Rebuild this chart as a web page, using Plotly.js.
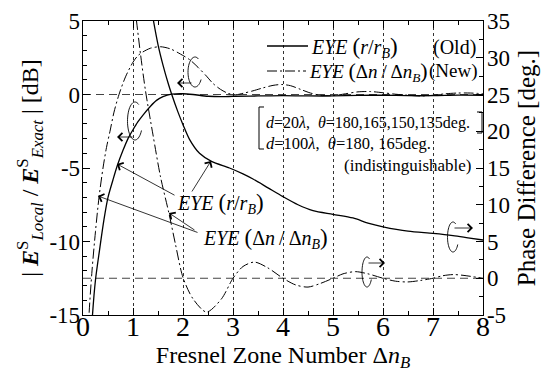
<!DOCTYPE html>
<html><head><meta charset="utf-8">
<script src="https://cdn.plot.ly/plotly-3.0.1.min.js"></script>
<style>
html,body{margin:0;padding:0;background:#fff}
#chart{width:547px;height:372px}
</style>
</head><body><div id="chart"></div>
<script>
// ---- data ----
const oldDbX = [0.15,0.19,0.25,0.33,0.42,0.5,0.6,0.69,0.8,0.9,1.0,1.1,1.2,1.35,1.47,1.6,1.77,2.0,2.2,2.5,2.8,3.0,3.5,4.0,4.5,5.0,5.5,6.0,6.5,7.0,7.5,8.0];
const oldDbY = [-17.5,-15,-12.6,-10.6,-8.5,-7.0,-5.8,-4.8,-3.8,-3.0,-2.4,-1.85,-1.4,-0.8,-0.4,-0.15,0.02,0.05,0.0,-0.12,-0.15,-0.12,-0.1,-0.08,-0.1,-0.1,-0.06,-0.05,-0.08,-0.08,-0.04,-0.05];
const newDbX = [0.08,0.12,0.18,0.25,0.32,0.4,0.47,0.54,0.62,0.72,0.85,1.0,1.1,1.2,1.35,1.55,1.75,1.95,2.14,2.3,2.47,2.6,2.75,2.9,3.05,3.2,3.4,3.6,3.8,3.97,4.15,4.35,4.55,4.75,5.0,5.25,5.5,5.75,6.0,6.25,6.5,6.75,7.0,7.25,7.5,7.75,8.0];
const newDbY = [-18.5,-15,-12,-9.3,-7.0,-5.0,-3.6,-2.5,-1.2,0.0,1.2,2.2,2.65,2.9,3.15,3.25,3.1,2.75,2.35,1.85,1.25,0.75,0.35,0.08,-0.02,0.08,0.25,0.45,0.62,0.68,0.6,0.35,0.1,-0.05,-0.08,0.05,0.18,0.2,0.12,0.02,-0.05,-0.1,-0.05,0.05,0.1,0.1,0.05];
const oldPhX = [1.3,1.41,1.5,1.6,1.7,1.77,1.9,2.0,2.13,2.33,2.57,2.93,3.2,3.4,3.7,4.0,4.3,4.6,5.0,5.4,5.7,6.0,6.5,7.0,7.4,7.7,8.0];
const oldPhY = [39.5,35,31.8,29.0,26.6,25.1,22.6,20.9,18.9,17.0,15.9,15.0,14.2,13.5,12.3,11.1,10.0,9.2,8.7,8.2,7.5,7.0,6.4,6.1,5.8,5.5,5.2];
const newPhX = [0.98,1.07,1.15,1.25,1.4,1.55,1.72,1.85,2.0,2.2,2.47,2.77,3.0,3.2,3.43,3.7,4.0,4.25,4.5,4.75,5.0,5.2,5.45,5.7,6.0,6.25,6.5,6.75,7.0,7.2,7.4,7.6,8.0];
const newPhY = [40,35,30.5,25.5,19.5,13.8,8.8,4.6,0.1,-2.8,-4.6,-2.8,0.0,1.6,2.2,1.4,0.0,-0.9,-1.2,-0.7,0.0,0.6,0.9,0.6,0.0,-0.4,-0.5,-0.3,0.0,0.35,0.5,0.4,0.0];

const xTickVals = [0,1,2,3,4,5,6,7,8];
const xTickText = ['0','1','2','3','4','5','6','7','8'];
const yLeftTickVals = [-15,-10,-5,0,5];
const yLeftTickText = ['-15','-10','-5','0','5'];
const yRightTickVals = [-5,0,5,10,15,20,25,30,35];
const yRightTickText = ['-5','0','5','10','15','20','25','30','35'];

// ---- layout helpers ----
const FONT = 'Liberation Serif';
const L = 83, T = 21, W = 400, H = 294;
const px = x => (x - L) / W;
const py = y => (T + H - y) / H;
const DASHDOT = '10px,3px,2px,3px';

const traces = [
  {x: oldDbX, y: oldDbY, yaxis: 'y', mode: 'lines', line: {color: '#000', width: 1.3, shape: 'spline', smoothing: 0.8}, showlegend: false},
  {x: newDbX, y: newDbY, yaxis: 'y', mode: 'lines', line: {color: '#000', width: 1, dash: DASHDOT, shape: 'spline', smoothing: 0.8}, showlegend: false},
  {x: oldPhX, y: oldPhY, yaxis: 'y2', mode: 'lines', line: {color: '#000', width: 1.3, shape: 'spline', smoothing: 0.8}, showlegend: false},
  {x: newPhX, y: newPhY, yaxis: 'y2', mode: 'lines', line: {color: '#000', width: 1, dash: DASHDOT, shape: 'spline', smoothing: 0.8}, showlegend: false}
];

function arcPath(cx, cy, rx, ry, a0, a1) {
  let d = '';
  const n = 40;
  for (let i = 0; i <= n; i++) {
    const a = (a0 + (a1 - a0) * i / n) * Math.PI / 180;
    const x = cx + rx * Math.cos(a), y = cy - ry * Math.sin(a);
    d += (i === 0 ? 'M' : 'L') + px(x).toFixed(4) + ',' + py(y).toFixed(4);
  }
  return d;
}
function pline(pts) {
  return pts.map((p, i) => (i ? 'L' : 'M') + px(p[0]).toFixed(4) + ',' + py(p[1]).toFixed(4)).join('');
}

const shapes = [
  {type: 'line', xref: 'paper', x0: 0, x1: 1, yref: 'y', y0: 0, y1: 0, line: {color: '#444', width: 1.2, dash: '8px,5px'}, layer: 'below'},
  {type: 'line', xref: 'paper', x0: 0, x1: 1, yref: 'y2', y0: 0, y1: 0, line: {color: '#444', width: 1.2, dash: '8px,5px'}, layer: 'below'},
  {type: 'line', xref: 'paper', yref: 'paper', x0: px(267), x1: px(308), y0: py(46), y1: py(46), line: {color: '#000', width: 1.6}},
  {type: 'line', xref: 'paper', yref: 'paper', x0: px(267), x1: px(306), y0: py(71), y1: py(71), line: {color: '#000', width: 1, dash: DASHDOT}},
  {type: 'path', xref: 'paper', yref: 'paper', path: pline([[264,107],[259,107],[259,149],[264,149]]), line: {color: '#000', width: 1}},
  {type: 'path', xref: 'paper', yref: 'paper', path: pline([[477,112],[482,112],[482,133],[477,133]]), line: {color: '#000', width: 1}},
  {type: 'path', xref: 'paper', yref: 'paper', path: arcPath(195, 72, 7, 15, 60, 330), line: {color: '#000', width: 0.9}},
  {type: 'path', xref: 'paper', yref: 'paper', path: arcPath(135, 121, 7.5, 19, 60, 330), line: {color: '#000', width: 0.9}},
  {type: 'path', xref: 'paper', yref: 'paper', path: arcPath(453, 237, 5.5, 15, 60, 330), line: {color: '#000', width: 0.9}},
  {type: 'path', xref: 'paper', yref: 'paper', path: arcPath(367, 272, 5, 15, 60, 330), line: {color: '#000', width: 0.9}}
];

const P = (s, sz) => '<span style="font-size:' + sz + 'px">' + s + '</span>';
const eyeR = sz => '<i>EYE</i> ' + P('(', sz) + '<i>r</i>/<i>r</i><sub><i>B</i></sub>' + P(')', sz);
const eyeN = sz => '<i>EYE</i> ' + P('(', sz) + 'Δ<i>n</i>\u2009/\u2009Δ<i>n</i><sub><i>B</i></sub>' + P(')', sz);

function arrow(tip, tail) {
  return {xref: 'paper', yref: 'paper', x: px(tip[0]), y: py(tip[1]), ax: tail[0] - tip[0], ay: tail[1] - tip[1],
    text: '', showarrow: true, arrowhead: 4, arrowsize: 2, arrowwidth: 0.8, arrowcolor: '#000'};
}
function label(text, x, y, anchor, size) {
  return {xref: 'paper', yref: 'paper', x: px(x), y: py(y), xanchor: anchor, yanchor: 'middle', text: text,
    showarrow: false, font: {family: FONT, size: size, color: '#000'}};
}

const annotations = [
  label(eyeR(23), 309, 47, 'left', 20),
  label('(Old)', 478, 47, 'right', 20),
  label(eyeN(22), 307, 71, 'left', 19),
  label('(New)', 480, 71, 'right', 19),
  label('<i>d</i>=20<i>λ</i>,  <i>θ</i>=180,165,150,135deg.', 264, 123, 'left', 16),
  label('<i>d</i>=100<i>λ</i>,  <i>θ</i>=180, 165deg.', 264, 143, 'left', 16.5),
  label('(indistinguishable)', 473, 165, 'right', 17),
  label(eyeR(23), 175, 203, 'left', 20),
  label(eyeN(23), 201, 238, 'left', 20),
  arrow([117, 164], [176, 196]),
  arrow([211, 161], [191, 193]),
  arrow([98, 196], [199, 233]),
  arrow([169, 213], [196, 231]),
  arrow([177, 83], [193, 83]),
  arrow([117, 137], [134, 137]),
  arrow([473, 228], [453, 228]),
  arrow([385, 263], [367, 263])
];

const axisCommon = {showline: true, linecolor: '#000', linewidth: 1.3, ticks: 'inside', ticklen: 7, tickwidth: 1, tickcolor: '#000',
  zeroline: false, tickfont: {family: FONT, size: 23, color: '#000'}};

const layout = {
  width: 547, height: 372, autosize: false,
  margin: {l: L, r: 547 - L - W, t: T, b: 372 - T - H, pad: 0},
  paper_bgcolor: '#fff', plot_bgcolor: '#fff',
  font: {family: FONT, color: '#000'},
  showlegend: false,
  xaxis: Object.assign({}, axisCommon, {
    range: [0, 8], tickmode: 'array', tickvals: xTickVals, ticktext: xTickText, mirror: 'ticks',
    tickfont: {family: FONT, size: 28, color: '#000'}, ticklabelstandoff: -14,
    minor: {dtick: 0.5, ticks: 'inside', ticklen: 4, tickcolor: '#000'},
    showgrid: true, gridcolor: '#333', gridwidth: 1, griddash: '3px,3px',
    title: {text: 'Fresnel Zone Number Δ<i>n</i><sub><i>B</i></sub>', font: {family: FONT, size: 24, color: '#000'}, standoff: 7}
  }),
  yaxis: Object.assign({}, axisCommon, {
    range: [-15, 5], tickmode: 'array', tickvals: yLeftTickVals, ticktext: yLeftTickText, ticklabelstandoff: -3,
    minor: {dtick: 1, ticks: 'inside', ticklen: 4, tickcolor: '#000'}, showgrid: false,
    title: {text: '| <b><i>E</i></b><sup>S</sup><sub><i>Local</i></sub> / <b><i>E</i></b><sup>S</sup><sub><i>Exact</i></sub> | [dB]', font: {family: FONT, size: 24, color: '#000'}, standoff: 4}
  }),
  yaxis2: Object.assign({}, axisCommon, {
    range: [-5, 35], overlaying: 'y', side: 'right', tickmode: 'array', tickvals: yRightTickVals, ticktext: yRightTickText, ticklabelstandoff: -2,
    minor: {dtick: 2.5, ticks: 'inside', ticklen: 4, tickcolor: '#000'}, showgrid: false,
    title: {text: 'Phase Difference [deg.]', font: {family: FONT, size: 25, color: '#000'}, standoff: 8}
  }),
  shapes: shapes,
  annotations: annotations
};

Plotly.newPlot('chart', traces, layout, {staticPlot: true, displayModeBar: false});
</script>
</body></html>
